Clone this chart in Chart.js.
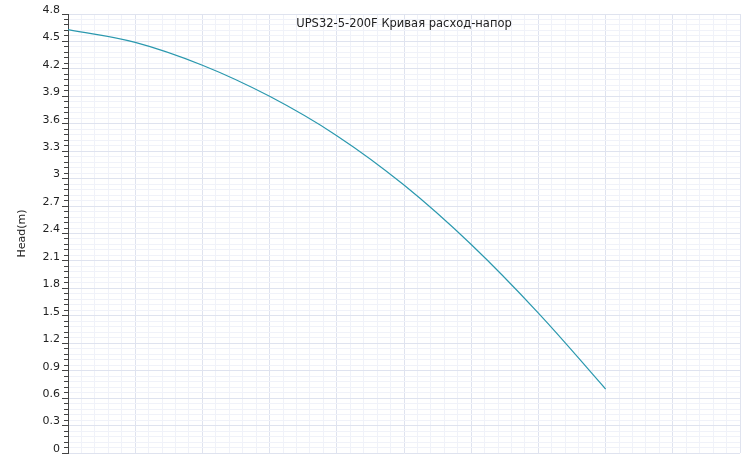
<!DOCTYPE html>
<html>
<head>
<meta charset="utf-8">
<script src="https://cdn.jsdelivr.net/npm/chart.js@4/dist/chart.umd.min.js"></script>
<style>
html,body{margin:0;padding:0;background:#fff;}
#wrap{width:743px;height:454px;position:relative;}
</style>
</head>
<body>
<div id="wrap"><canvas id="c"></canvas></div>
<script>
// Data
const flowValues = [0, 1, 2, 3, 4, 5, 6, 7, 8];
const headValues = [4.63, 4.49, 4.24, 3.90, 3.47, 2.93, 2.28, 1.53, 0.70];
const yTickLabels = ['0','0.3','0.6','0.9','1.2','1.5','1.8','2.1','2.4','2.7','3','3.3','3.6','3.9','4.2','4.5','4.8'];
const xMajorTicks = [0,1,2,3,4,5,6,7,8,9,10];
const titleText = 'UPS32-5-200F Кривая расход-напор';
const yAxisTitle = 'Head(m)';

const yMajor = yTickLabels.map(Number);
const yMinor = [];
for (let i = 0; i < yMajor.length - 1; i++) for (let k = 0; k < 5; k++) yMinor.push(+(yMajor[i] + (yMajor[i+1]-yMajor[i])*k/5).toFixed(4));
yMinor.push(yMajor[yMajor.length-1]);
const xMinor = [];
for (let i = 0; i < xMajorTicks.length - 1; i++) for (let k = 0; k < 5; k++) xMinor.push(+(xMajorTicks[i] + k/5).toFixed(4));
xMinor.push(xMajorTicks[xMajorTicks.length-1]);

const MAJOR = '#dfe3ef';
const MINOR = '#f0f2f9';
const FONT = {family: 'DejaVu Sans', size: 11};

const titlePlugin = {
  id: 'inTitle',
  afterDraw(chart) {
    const {ctx, chartArea} = chart;
    ctx.save();
    ctx.font = '11.5px "DejaVu Sans"';
    ctx.fillStyle = '#222';
    ctx.textAlign = 'center';
    ctx.textBaseline = 'middle';
    ctx.fillText(titleText, (chartArea.left + chartArea.right) / 2, chartArea.top + 10);
    ctx.restore();
  }
};

const noPad = s => { s.paddingTop = 0; s.paddingBottom = 0; s.paddingLeft = 0; s.paddingRight = 0; };

new Chart(document.getElementById('c'), {
  type: 'line',
  data: {
    datasets: [{
      data: flowValues.map((x, i) => ({x: x, y: headValues[i]})),
      borderColor: '#2a98ae',
      borderWidth: 1.2,
      pointRadius: 0,
      fill: false,
      tension: 0.4
    }]
  },
  options: {
    responsive: true,
    maintainAspectRatio: false,
    animation: false,
    layout: {padding: {top: 14, right: 3, bottom: 1, left: 0}},
    plugins: {legend: {display: false}, tooltip: {enabled: false}, title: {display: false}},
    scales: {
      x: {
        type: 'linear', position: 'bottom', min: 0, max: 10, weight: 1,
        afterBuildTicks: s => { s.ticks = xMajorTicks.map(v => ({value: v})); },
        afterFit: s => { s.height = 0; noPad(s); },
        ticks: {display: false},
        grid: {color: MAJOR, drawTicks: false},
        border: {display: false}
      },
      x2: {
        type: 'linear', position: 'bottom', min: 0, max: 10, weight: 0,
        afterBuildTicks: s => { s.ticks = xMinor.map(v => ({value: v})); },
        afterFit: s => { s.height = 0; noPad(s); },
        ticks: {display: false},
        grid: {color: c => (c.index % 5 === 0 ? 'rgba(0,0,0,0)' : MINOR), drawTicks: false},
        border: {display: false}
      },
      y: {
        type: 'linear', position: 'left', min: 0, max: 4.8, weight: 1,
        afterBuildTicks: s => { s.ticks = yMajor.map(v => ({value: v})); },
        afterFit: s => { s.width = 68; noPad(s); },
        ticks: {
          font: FONT, color: '#222', padding: 2, labelOffset: -4,
          callback: (v, i) => yTickLabels[i]
        },
        title: {display: true, text: yAxisTitle, font: FONT, color: '#222', padding: {top: 16, bottom: 0}},
        grid: {color: MAJOR, tickColor: '#444', tickLength: 6, tickWidth: 1},
        border: {display: true, color: '#444', width: 1}
      },
      y2: {
        type: 'linear', position: 'left', min: 0, max: 4.8, weight: 0,
        afterBuildTicks: s => { s.ticks = yMinor.map(v => ({value: v})); },
        afterFit: s => { s.width = 0; noPad(s); },
        ticks: {display: false},
        grid: {
          color: c => (c.index % 5 === 0 ? 'rgba(0,0,0,0)' : MINOR),
          tickColor: c => (c.index % 5 === 0 ? 'rgba(0,0,0,0)' : '#444'),
          tickLength: 4, drawTicks: true
        },
        border: {display: false}
      }
    }
  },
  plugins: [titlePlugin]
});
</script>
</body>
</html>
